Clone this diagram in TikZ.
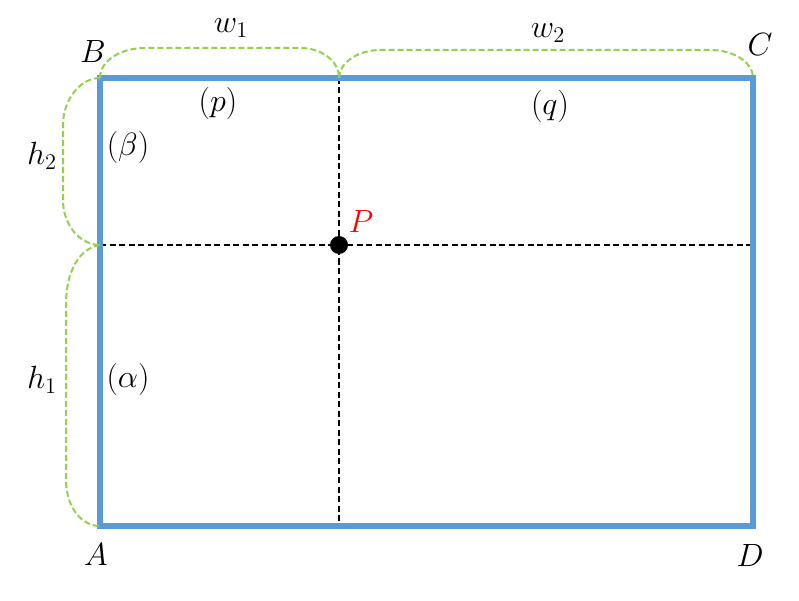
\documentclass[tikz,border=0pt]{standalone}
\usepackage{amsmath}
\usepackage{tikz}
\usetikzlibrary{calc}
\definecolor{rectblue}{HTML}{5B9BD5}
\definecolor{bracegreen}{HTML}{92D050}
\tikzset{mlabel/.style={font=\huge, scale=1.55, inner sep=0pt}}

\begin{document}
\begin{tikzpicture}[x=1pt,y=-1pt]
\tikzstyle{frame} = [draw=rectblue, line width=5.5pt, line join=miter]
\tikzstyle{guide} = [draw=black, line width=1.6pt, dash pattern=on 6pt off 3.5pt]
\tikzstyle{brace} = [draw=bracegreen, line width=2pt, dash pattern=on 6pt off 3pt]
\useasboundingbox (0,0) rectangle (799,601);

\coordinate (A) at (100,526);
\coordinate (B) at (100,78);
\coordinate (C) at (753,78);
\coordinate (D) at (753,526);
\coordinate (P) at (339,245);
\coordinate (top) at (339,78);
\coordinate (bot) at (339,526);
\coordinate (left) at (100,245);
\coordinate (right) at (753,245);

% dashed guides through P
\draw [guide] (top) -- (bot);
\draw [guide] (left) -- (right);

% frame
\draw [frame] (A) -- (B) -- (C) -- (D) -- cycle;

% braces
\draw [brace] (B) .. controls (100,61) and (120,48) .. (145,48) -- (300,48) .. controls (322,48) and (339,61) .. (top);
\draw [brace] (top) .. controls (339,63) and (358,50) .. (380,50) -- (710,50) .. controls (735,50) and (753,63) .. (C);
\draw [brace] (B) .. controls (80,78) and (63,100) .. (63,125) -- (63,200) .. controls (63,225) and (80,245) .. (left);
\draw [brace] (left) .. controls (80,248) and (66,270) .. (66,305) -- (66,480) .. controls (66,505) and (80,526) .. (A);

\fill (P) circle (9);

% labels
\node (lA) [mlabel] at (96,555) {$A$};
\node (lB) [mlabel] at (93,52) {$B$};
\node (lC) [mlabel] at (760,45) {$C$};
\node (lD) [mlabel] at (750,556) {$D$};
\node (lP) [mlabel, text=red] at (361,222) {$P$};
\node (w1) [mlabel] at (231,28) {$w_1$};
\node (w2) [mlabel] at (548,33) {$w_2$};
\node (h2) [mlabel] at (42,156) {$h_2$};
\node (h1) [mlabel] at (42,380) {$h_1$};
\node (p) [mlabel] at (218,103) {$(p)$};
\node (q) [mlabel] at (550,106) {$(q)$};
\node (beta) [mlabel] at (128,147) {$(\beta)$};
\node (alpha) [mlabel] at (128,379) {$(\alpha)$};

\end{tikzpicture}
\end{document}
